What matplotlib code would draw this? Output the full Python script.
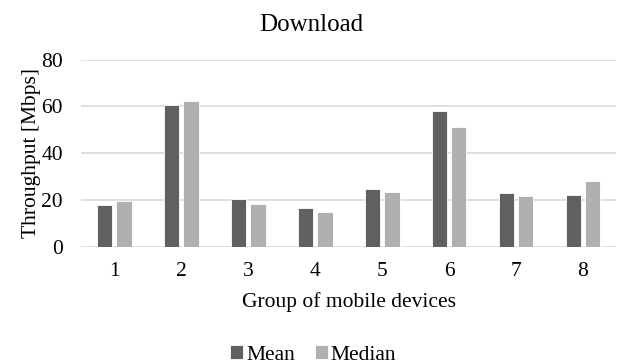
import numpy as np
import matplotlib
matplotlib.use("Agg")
import matplotlib.pyplot as plt

groups = ["1", "2", "3", "4", "5", "6", "7", "8"]
mean_vals = [17.8, 60.5, 20.4, 16.5, 24.5, 57.8, 22.9, 22.2]
median_vals = [19.7, 62.1, 18.4, 14.8, 23.4, 51.1, 21.7, 28.1]
y_ticks = [0, 20, 40, 60, 80]

plt.rcParams["font.family"] = ["Liberation Serif", "DejaVu Serif"]

fig = plt.figure(figsize=(6.17, 3.64), dpi=100)
ax = fig.add_axes([0.1313, 0.322, 0.8677, 0.5145])

x = np.arange(len(groups))
w = 0.23
off = 0.145
ax.bar(x - off, mean_vals, w, color="#606060", edgecolor="white", linewidth=0.6,
       label="Mean", zorder=3)
ax.bar(x + off, median_vals, w, color="#b0b0b0", edgecolor="white", linewidth=0.6,
       label="Median", zorder=3)

ax.set_xlim(-0.5, len(groups) - 0.5)
ax.set_ylim(0, 80)
ax.set_yticks(y_ticks)
ax.set_xticks(x)
ax.set_xticklabels(groups)
ax.tick_params(axis="both", length=0, labelsize=15.5, colors="black")
ax.tick_params(axis="y", pad=13)
ax.tick_params(axis="x", pad=11)
ax.yaxis.grid(True, color="#d9d9d9", linewidth=1.2, zorder=0)
for s in ax.spines.values():
    s.set_visible(False)

ax.set_ylabel("Throughput [Mbps]", fontsize=15.5, labelpad=0)
ax.set_xlabel("Group of mobile devices", fontsize=15.5, labelpad=8)
fig.text(0.505, 0.93, "Download", ha="center", va="center", fontsize=18)

fig.legend(loc="center", bbox_to_anchor=(0.508, 0.025), ncol=2, frameon=False,
           fontsize=15.5, handlelength=0.6, handleheight=0.6, handletextpad=0.15,
           columnspacing=0.9, borderpad=0)

fig.savefig("out.png", dpi=100)
